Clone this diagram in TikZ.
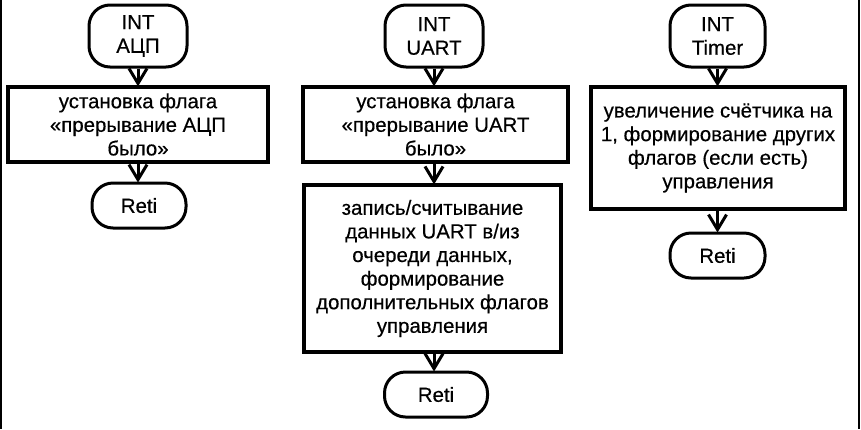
\documentclass[tikz,border=0pt]{standalone}
\usepackage{fontspec}
\setmainfont{Liberation Sans}[FakeBold=0.4]
\usetikzlibrary{arrows.meta}
\begin{document}
\begin{tikzpicture}[x=1pt,y=-1pt,
  txt/.style={font=\fontsize{20.4}{23.6}\selectfont, align=center, inner sep=0pt},
  term/.style={txt, draw, line width=3pt, rounded corners=21pt},
  proc/.style={txt, draw, line width=3.2pt},
  arr/.style={line width=3pt, -{Straight Barb[length=15pt,width=18pt,line cap=butt,line join=miter]}, shorten >=-1pt},
  frame/.style={line width=2.5pt}]
\useasboundingbox (0,0) rectangle (861,429);
\coordinate (fl1) at (1,0); \coordinate (fl2) at (1,429);
\coordinate (fr1) at (859,0); \coordinate (fr2) at (859,429);
\draw[frame] (fl1) -- (fl2);
\draw[frame] (fr1) -- (fr2);
% column 1
\node[term, minimum width=98pt, minimum height=62pt] (t1) at (138,36) {INT\\АЦП};
\node[proc, minimum width=260pt, minimum height=75pt] (p1) at (138,124.5) {установка флага\\«прерывание АЦП\\было»};
\node[term, minimum width=94pt, minimum height=45pt] (r1) at (139,205.5) {Reti};
% column 2
\node[term, minimum width=98pt, minimum height=62pt] (t2) at (434,36) {INT\\UART};
\node[proc, minimum width=265pt, minimum height=75pt] (p2) at (435.5,124.5) {установка флага\\«прерывание UART\\было»};
\node[proc, minimum width=257pt, minimum height=167pt] (p3) at (432.5,268.5) {запись/считывание\\данных UART в/из\\очереди данных,\\формирование\\дополнительных флагов\\управления};
\node[term, minimum width=103pt, minimum height=45pt] (r2) at (436,394.5) {Reti};
% column 3
\node[term, minimum width=95pt, minimum height=62pt] (t3) at (717.5,36) {INT\\Timer};
\node[proc, minimum width=254pt, minimum height=122pt] (p4) at (718,148) {увеличение счётчика на\\1, формирование других\\флагов (если есть)\\управления};
\node[term, minimum width=95pt, minimum height=45pt] (r3) at (717.5,255.5) {Reti};
% connectors
\draw[arr] (t1.south) -- (t1.south |- p1.north);
\draw[arr] (p1.south -| t1.south) -- (t1.south |- r1.north);
\draw[arr] (t2.south) -- (t2.south |- p2.north);
\draw[arr] (t2.south |- p2.south) -- (t2.south |- p3.north);
\draw[arr] (t2.south |- p3.south) -- (t2.south |- r2.north);
\draw[arr] (t3.south) -- (t3.south |- p4.north);
\draw[arr] (t3.south |- p4.south) -- (t3.south |- r3.north);
\end{tikzpicture}
\end{document}
